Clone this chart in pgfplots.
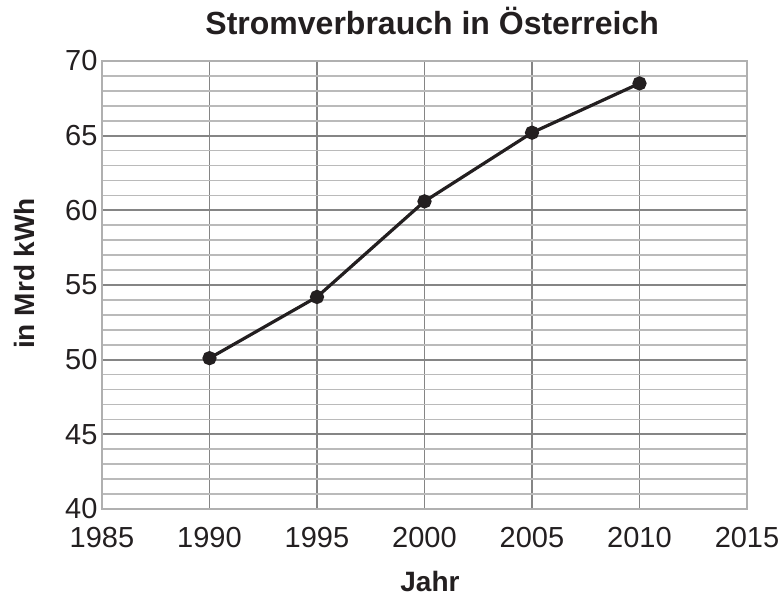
\documentclass[border=0pt]{standalone}
\usepackage{fontspec}
\setmainfont{Liberation Sans}
\usepackage{pgfplots}
\pgfplotsset{compat=1.18}
\definecolor{majorgrid}{HTML}{858585}
\definecolor{minorgrid}{HTML}{BABABA}
\definecolor{frame}{HTML}{B0B0B0}
\definecolor{linec}{HTML}{231F20}
\begin{document}
\begin{tikzpicture}
\begin{axis}[
  scale only axis,
  width=645pt, height=448pt,
  xmin=1985, xmax=2015, ymin=40, ymax=70,
  xtick={1985,1990,...,2015},
  ytick={40,45,...,70},
  minor y tick num=4,
  grid=both,
  major grid style={majorgrid, line width=1.8pt},
  minor grid style={minorgrid, line width=1.6pt},
  axis line style={frame, line width=2.4pt},
  major tick length=0pt, minor tick length=0pt,
  /pgf/number format/assume math mode=true,
  xticklabel={\pgfmathprintnumber[1000 sep={}]{\tick}},
  yticklabel style={font=\fontsize{29}{33}\selectfont, text=linec, xshift=-1pt},
  xticklabel style={font=\fontsize{29}{33}\selectfont, text=linec, yshift=-15pt},
  title={\textbf{Stromverbrauch in Österreich}},
  title style={font=\fontsize{32}{36}\selectfont, text=linec, at={(axis description cs:0.512,1.075)}, anchor=center},
  xlabel={\textbf{Jahr}},
  ylabel={\textbf{in Mrd kWh}},
  xlabel style={font=\fontsize{28}{32}\selectfont, text=linec, at={(axis description cs:0.5085,-0.162)}, anchor=center},
  ylabel style={font=\fontsize{28}{32}\selectfont, text=linec, at={(axis description cs:-0.12,0.526)}, anchor=center, rotate=0},
]
\addplot[linec, line width=3.2pt, mark=*, mark size=5.5pt, mark options={fill=linec, draw=linec}] coordinates {
  (1990,50.1) (1995,54.2) (2000,60.6) (2005,65.2) (2010,68.5)
};
\end{axis}
\pgfresetboundingbox
\path (current axis.south west) ++(-102pt,-89pt) coordinate (bl);
\path (current axis.north east) ++(37pt,61pt) coordinate (tr);
\path[use as bounding box] (bl) rectangle (tr);
\end{tikzpicture}
\end{document}
